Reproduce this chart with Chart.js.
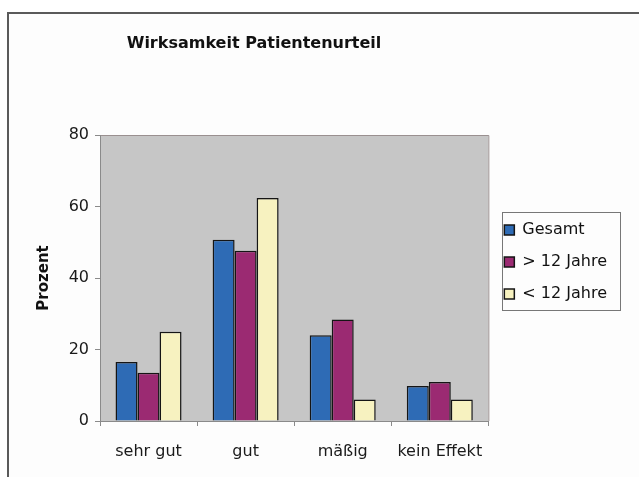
<!DOCTYPE html>
<html><head><meta charset="utf-8">
<script src="https://cdn.jsdelivr.net/npm/chart.js@4"></script>
<style>
html,body{margin:0;padding:0;background:#fff;}
#frame{position:absolute;left:7px;top:12px;width:700px;height:600px;border:2px solid #5a5a5a;background:#fdfdfd;}
#wrap{position:absolute;left:0;top:0;width:639px;height:477px;}
</style></head><body>
<div id="frame"></div>
<div id="wrap"><canvas id="c" width="639" height="477"></canvas></div>
<script>
const categories = ['sehr gut', 'gut', 'mäßig', 'kein Effekt'];
const gesamt = [16.5, 50.7, 24.0, 9.8];
const ueber12 = [13.5, 47.6, 28.4, 10.9];
const unter12 = [25.0, 62.4, 6.0, 6.0];
const seriesNames = ['Gesamt', '> 12 Jahre', '< 12 Jahre'];
const yTicks = [0, 20, 40, 60, 80];
const chartTitle = 'Wirksamkeit Patientenurteil';
const yTitle = 'Prozent';

const FAMILY = "'DejaVu Sans', 'Liberation Sans', Arial, sans-serif";
Chart.defaults.font.family = FAMILY;

const plotBg = {
  id: 'plotBg',
  beforeDraw(chart) {
    const {ctx, chartArea: a} = chart;
    ctx.save();
    ctx.fillStyle = '#c6c6c6';
    ctx.fillRect(a.left, a.top, a.right - a.left, a.bottom - a.top);
    ctx.strokeStyle = '#9a9090';
    ctx.lineWidth = 1;
    ctx.beginPath();
    ctx.moveTo(a.left, a.top + 0.5); ctx.lineTo(a.right + 0.5, a.top + 0.5); ctx.lineTo(a.right + 0.5, a.bottom);
    ctx.stroke();
    ctx.restore();
  }
};
const titleShift = {
  id: 'titleShift',
  afterLayout(chart) {
    const t = chart.titleBlock;
    if (t) { t.left = 8; t.right = 500; t.width = 492; }
  }
};
const legendFrame = {
  id: 'legendFrame',
  afterDraw(chart) {
    const hb = chart.legend && chart.legend.legendHitBoxes;
    if (!hb || !hb.length) return;
    const first = hb[0], last = hb[hb.length - 1];
    let r = 0;
    hb.forEach(h => { r = Math.max(r, h.left + h.width); });
    const l = first.left - 2, t = first.top - 10, b = last.top + last.height + 8;
    const ctx = chart.ctx;
    ctx.save();
    ctx.strokeStyle = '#777';
    ctx.lineWidth = 1;
    ctx.strokeRect(Math.round(l) + 0.5, Math.round(t) + 0.5, Math.round(r + 13 - l), Math.round(b - t));
    ctx.restore();
  }
};

new Chart(document.getElementById('c'), {
  type: 'bar',
  data: {
    labels: categories,
    datasets: [
      {label: seriesNames[0], data: gesamt, backgroundColor: '#2e6bb5', borderColor: '#151515', borderWidth: 1.5},
      {label: seriesNames[1], data: ueber12, backgroundColor: '#9b2a72', borderColor: '#151515', borderWidth: 1.5},
      {label: seriesNames[2], data: unter12, backgroundColor: '#f7f2c0', borderColor: '#151515', borderWidth: 1.5}
    ]
  },
  options: {
    responsive: false,
    animation: false,
    devicePixelRatio: 1,
    layout: {padding: {left: 20, right: 22, top: 10, bottom: 0}},
    datasets: {bar: {categoryPercentage: 0.68, barPercentage: 1.0}},
    scales: {
      x: {
        grid: {display: true, drawOnChartArea: false, drawTicks: true, tickLength: 5, color: '#8a8a8a', offset: true},
        border: {display: true, color: '#8a8a8a', width: 1},
        ticks: {font: {size: 16}, color: '#1a1a1a', padding: 16, maxRotation: 0},
        afterFit(s) { s.height = 56; }
      },
      y: {
        min: 0, max: 80,
        afterBuildTicks(s) { s.ticks = yTicks.map(v => ({value: v})); },
        grid: {display: true, drawOnChartArea: false, drawTicks: true, tickLength: 5, color: '#8a8a8a'},
        border: {display: true, color: '#8a8a8a', width: 1},
        ticks: {font: {size: 16}, color: '#1a1a1a', padding: 6},
        title: {display: true, text: yTitle, font: {size: 15, weight: 'bold'}, color: '#111', padding: {top: 15, bottom: 0}},
        afterFit(s) { s.width = 80; }
      }
    },
    plugins: {
      title: {
        display: true, text: chartTitle, color: '#111',
        font: {size: 16, weight: 'bold'},
        padding: {top: 24.4, bottom: 81.4}
      },
      legend: {
        position: 'right', align: 'start', fullSize: false,
        title: {display: true, text: '', font: {size: 10, lineHeight: 1}, padding: {top: 61, bottom: 0}},
        labels: {boxWidth: 10, boxHeight: 10, padding: 16, font: {size: 16}, color: '#111'}
      },
      tooltip: {enabled: false}
    }
  },
  plugins: [plotBg, titleShift, legendFrame]
});
</script>
</body></html>
